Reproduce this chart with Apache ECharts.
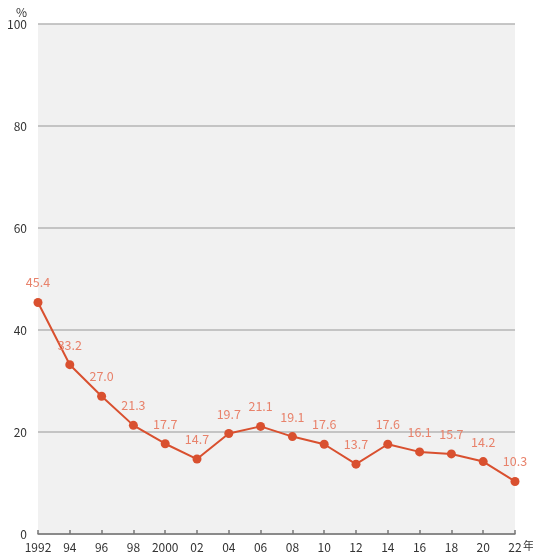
<!DOCTYPE html>
<html>
<head>
<meta charset="utf-8">
<script src="https://cdn.jsdelivr.net/npm/echarts@6/dist/echarts.min.js"></script>
<style>
  html, body { margin: 0; padding: 0; background: #fff; }
  #chart { width: 533px; height: 557px; }
</style>
</head>
<body>
<div id="chart"></div>
<script>
// Year labels along the horizontal axis
var years = ['1992', '94', '96', '98', '2000', '02', '04', '06', '08', '10', '12', '14', '16', '18', '20', '22'];
// Share (%) for each year
var rates = [45.4, 33.2, 27.0, 21.3, 17.7, 14.7, 19.7, 21.1, 19.1, 17.6, 13.7, 17.6, 16.1, 15.7, 14.2, 10.3];
// Vertical axis range
var yMin = 0, yMax = 100, yStep = 20;

var font = '"Noto Sans CJK JP", "Noto Sans", sans-serif';
var chart = echarts.init(document.getElementById('chart'), null, { renderer: 'canvas' });

chart.setOption({
  animation: false,
  grid: {
    left: 38, right: 18, top: 24, bottom: 23,
    containLabel: false,
    outerBoundsMode: 'none',
    show: true, backgroundColor: '#f1f1f1', borderWidth: 0
  },
  // unit for the year axis, sitting just after the last year label
  graphic: [{
    type: 'text',
    left: 523,
    top: 540,
    style: { text: '年', fill: '#333', fontSize: 11, fontFamily: font }
  }],
  xAxis: {
    type: 'category',
    data: years,
    boundaryGap: false,
    axisLine: { lineStyle: { color: '#777', width: 1.5 } },
    axisTick: { inside: true, length: 4, interval: 0, lineStyle: { color: '#777', width: 1.5 } },
    axisLabel: { interval: 0, color: '#333', fontSize: 12, fontFamily: font, margin: 7 },
    splitLine: { show: false }
  },
  yAxis: {
    type: 'value',
    min: yMin, max: yMax, interval: yStep,
    name: '%',
    nameLocation: 'end',
    nameGap: 6,
    nameTextStyle: { color: '#333', fontSize: 12, fontFamily: font, align: 'right', padding: [0, 11, 0, 0] },
    axisLine: { show: false },
    axisTick: { show: false },
    axisLabel: { color: '#333', fontSize: 12, fontFamily: font, margin: 11 },
    splitLine: { lineStyle: { color: '#b4b4b4', width: 1.5 } }
  },
  series: [{
    type: 'line',
    data: rates,
    symbol: 'circle',
    symbolSize: 9,
    lineStyle: { color: '#d9502f', width: 2 },
    itemStyle: { color: '#d9502f' },
    label: {
      show: true,
      position: 'top',
      distance: 9,
      color: '#e8826b',
      fontSize: 12.5,
      fontFamily: font,
      formatter: function (p) { return p.value.toFixed(1); }
    }
  }]
});
</script>
</body>
</html>
